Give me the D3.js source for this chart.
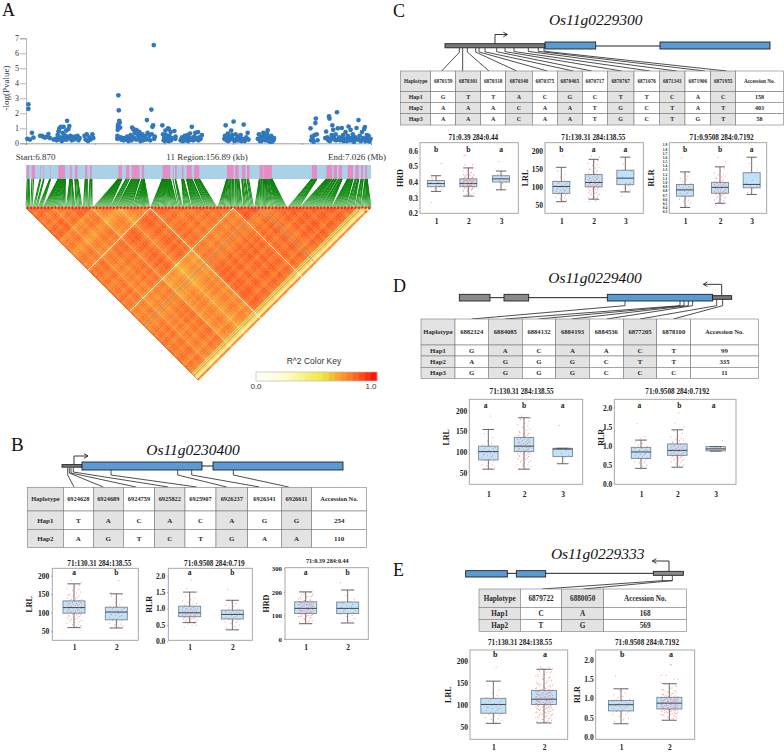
<!DOCTYPE html>
<html><head><meta charset="utf-8">
<script src="https://cdn.jsdelivr.net/npm/d3@7"></script>
<style>html,body{margin:0;padding:0;background:#fff}svg{display:block}text{font-family:"Liberation Serif",serif}</style>
</head><body><svg id="c" width="784" height="753"></svg>
<script>
// ---------- Panel A data ----------
const regionKb = 156.89;
const snpCluster1 = [[.6,.3],[1.1,2.6],[1.1,2.3],[1.8,.25],[2.7,.7],[3.4,.38]];
const snpCluster2 = [[6.4,.5],[7.2,.5],[8,.42],[8.7,.38],[9.6,.45],[10.2,.62],[10.9,.35],[12.6,.25],[13.4,.3],[14,.2],[14.4,.55],[14.8,.8],[15.2,1],[15.6,.4],[15.9,1.1],[16.3,.15],[16.6,.7],[16.9,.3],[17.1,1.1],[17.5,.55],[17.9,.25],[18.3,.85],[18.7,1.5],[19,.45],[19.3,.95],[19.7,1.15],[20,.35],[20.3,.5],[20.8,.2],[21.2,.4],[21.7,.25],[22.3,.45],[22.9,.3],[23.4,.5],[23.9,.2],[24.4,.35],[26.6,.5],[27.1,.25],[27.6,.6],[28.2,.15],[28.8,.4],[29.3,.25],[30.2,.6],[30.6,.35]];
const snpCluster3 = [[41.5,.3],[41.6,.5],[41.7,.9],[41.8,1.1],[41.9,1.25],[42,3.2],[42.2,2.2],[42.4,1.5],[42.6,1.38],[42.8,1.05],[43,.4],[43.3,.25],[43.8,.35],[44.4,.2],[45,.35],[45.6,.25],[46,.45],[46.6,.15],[47.2,.3],[47.6,.55],[48,.2],[48.3,1.05],[48.7,.95],[49,.4],[49.4,.7],[49.8,.9],[50.1,.25],[50.5,.85],[50.9,.55],[51.2,.3],[51.6,.75],[52,.15],[52.4,.45],[52.9,.6],[53.3,.2],[53.8,.35],[54.2,.5],[54.7,.25],[55,1.55],[55.3,.7],[55.7,.3],[56.1,.55],[56.5,.2],[57,2.25],[57.2,.6],[57.5,1.1],[57.8,1.2],[58.1,6.55],[58.3,.3],[58.6,.45],[62,1.2],[62.3,.6],[62.6,.2],[63,.4],[63.4,.85],[63.8,.3],[64.2,.5],[64.6,1],[65,.95],[65.4,.2],[65.8,.75],[66.2,.35],[67.5,.82],[67.9,.3],[70.3,.2],[71,.4],[71.6,.25],[72.2,.5],[72.8,.3],[73.4,.55],[74,.2],[74.6,.65],[75.4,1.1],[75.9,.35],[76.5,.45],[77,.7],[77.7,.25],[78.2,.75],[78.8,.4],[79.4,.3],[80,.55]];
const snpCluster4 = [[90.2,.3],[90.5,.5],[90.8,1.2],[91.2,.2],[91.8,.65],[92.4,.4],[92.8,.25],[93.3,.85],[93.8,.55],[94.4,1.45],[94.8,.15],[95.3,.6],[95.8,.3],[96.4,.45],[97,.2],[97.6,.55],[98.4,.3],[99,1.25],[99.5,.15],[100.2,.4],[100.8,.7],[101.2,.25]];
const snpCluster5 = [[105.4,.3],[105.9,.6],[106.4,.15],[106.9,.45],[107.4,.25],[107.9,.7],[108.4,.35],[108.8,.2],[109.2,.55],[109.6,.65],[109.9,.87],[110.3,.15],[110.7,.4],[111.1,.25],[111.5,.5],[111.8,.3],[112.1,.12],[112.4,.2],[112.8,.35]];
const snpCluster6 = [[129.4,1],[129.7,.2],[130,.45],[130.4,.3],[130.8,.1],[131.2,.55],[131.6,1.35],[131.8,1.65],[132.2,.6],[132.6,.2],[136.1,.35],[136.5,.78],[137,.4],[137.5,.2],[137.8,1.8],[138,1.65],[138.5,.3],[139,.55],[139.3,1.2],[139.7,.9],[140.2,.25],[140.8,.6],[141.4,2.07],[141.8,1],[142.4,.4],[143,.2],[143.6,1.02],[144.2,.55],[144.8,.3],[145.3,.75],[145.8,.15],[146.3,.5],[146.7,1.12],[147.2,.35],[147.6,.9],[148,.2],[148.6,.6],[149.2,.1],[149.7,.4],[150.3,1.02],[150.9,.25],[151.2,1.55],[151.7,.5],[152.2,.15],[152.8,.75],[153.3,.35],[153.8,.95],[154.1,1.08],[154.6,.3],[155,.55],[155.4,.2],[155.8,.5],[156.2,.12],[156.7,.3]];
const snpCluster7 = [[15,.3],[16,.2],[17.3,.4],[18.5,.25],[21,.3],[62.8,.35],[63.2,.15],[63.6,.55],[64,.25],[64.4,.4],[64.9,.15],[65.2,.5],[65.6,.3],[66,.2],[68,.45],[70.7,.3],[71.3,.15],[72,.35],[72.5,.2],[73.1,.4],[73.7,.15],[74.3,.35],[75,.25],[76,.2],[77.3,.35],[78.5,.2],[91,.35],[92,.15],[93,.45],[94,.3],[96,.2],[97.3,.35],[98,.15],[100,.3],[106,.3],[107,.15],[108.1,.45],[109,.25],[110,.35],[110.9,.2],[111.3,.1],[112.6,.25],[137.2,.3],[138.2,.15],[140,.4],[141,.2],[142,.25],[143.3,.35],[144.5,.15],[146,.3],[147,.2],[148.3,.35],[149.4,.25],[151,.3],[152.5,.2],[154.3,.15],[155.2,.35]];
const pinkBands = [[.3,1.4],[2.6,4.1],[6.4,6.7],[7.9,8.2],[10.9,11.2],[14.7,17.8],[20,20.8],[22.3,23.4],[26.9,27.9],[29.1,29.9],[42,43.6],[45.5,47],[48.1,51.6],[52.7,53.7],[62.1,65.6],[66.8,67.1],[67.8,68.6],[70.9,71.6],[73.1,75.4],[76.5,78.8],[91.4,94.4],[95.1,96.7],[98.2,99.7],[100.5,101.7],[106.2,108],[108.3,111.8],[130,132.3],[136.6,139.2],[139.9,141.4],[142.2,143.7],[146.3,148.7],[149.8,151.3],[152.4,153.3],[154.3,155.1]];
const logPTicks = [0,1,2,3,4,5,6,7];
const kbTicks = [0,31.4,62.8,94.1,125.5,156.89];
const ldBins = 100;
const ldEdges = [19,36,60,68,96];
const ldBase = [
 [.80,.77,.78,.76,.78,.66],
 [.77,.75,.81,.72,.75,.66],
 [.78,.81,.79,.77,.81,.66],
 [.76,.72,.77,.85,.81,.66],
 [.78,.75,.81,.81,.82,.66],
 [.66,.66,.66,.66,.66,.72]];
const ldBinShift = [.014,-.007,.021,.007,-.014,.014,.028,-.007,-.028,-.021,.007,-.014,-.035,.014,.021,-.007,.014,.028,.014,-.042,-.021,.007,-.007,.021,.014,-.014,-.042,-.056,-.035,-.014,.007,.021,.014,-.021,.007,-.014,-.035,.014,.021,.007,.028,.014,-.007,-.021,.014,.021,-.014,-.028,.007,-.007,.021,.014,-.021,.007,.028,-.014,-.007,.014,.007,-.028,-.035,.014,.007,-.021,-.014,.021,.014,-.014,-.035,-.021,-.042,-.028,-.007,.014,-.021,.007,.021,-.014,.014,.028,-.007,-.028,.014,.007,.021,-.021,-.007,.014,.028,.007,-.014,-.035,.021,.014,-.014,-.021,-.14,.06,-.25,.07];
const ldLinesBoth = [[36,"#fff",1],[60,"#fff",.9],[68,"#8f9a95",.9]];
const ldLinesLeft = [[96.4,"#8f9a95",.9],[97.6,"#fff",.8],[99,"#fff",.6]];
const ldLinesRight = [[19,"#fff",.5],[27,"#fff",.4],[8,"#fff",.3]];
const keyStops = [0,.05,.1,.15,.2,.25,.3,.35,.4,.45,.5,.55,.6,.65,.7,.75,.8,.85,.9,.95];
// ---------- Haplotype tables ----------
const tblBHead = ["Haplotype","6924628","6924689","6924759","6925822","6925907","6926237","6926341","6926611","Accession No."];
const tblBRows = [["Hap1","T","A","C","A","C","A","G","G","254"],["Hap2","A","G","T","C","T","G","A","A","110"]];
const tblCHead = ["Haplotype","6870159","6870301","6870318","6870340","6870375","6870465","6870717","6870767","6871076","6871343","6871906","6871955","Accession No."];
const tblCRows = [["Hap1","G","T","T","A","C","G","C","T","T","C","A","C","158"],["Hap2","A","A","A","C","A","A","T","G","C","T","A","T","403"],["Hap3","A","A","A","C","A","A","T","G","C","T","G","T","58"]];
const tblDHead = ["Haplotype","6882324","6884085","6884132","6884193","6884536","6877205","6878100","Accession No."];
const tblDRows = [["Hap1","G","A","C","A","A","C","T","99"],["Hap2","A","G","G","G","C","T","T","335"],["Hap3","G","G","G","G","C","C","C","11"]];
const tblEHead = ["Haplotype","6879722","6880050","Accession No."];
const tblERows = [["Hap1","C","A","168"],["Hap2","T","G","569"]];
// ---------- Box statistics [low, q1, median, q3, high] ----------
const statBLRL = [[60,99,114,132,178],[59,81,102,115,151]];
const statBRLR = [[.57,.75,.87,1.07,1.5],[.35,.68,.82,.95,1.25]];
const statBHRD = [[65,108,130,158,200],[68,108,130,157,208]];
const statCHRD = [[.34,.37,.39,.41,.44],[.31,.37,.39,.42,.49],[.35,.4,.42,.44,.47]];
const statCLRL = [[60,83,102,116,155],[67,101,113,135,177],[87,107,125,147,183]];
const statCRLR = [[.4,.67,.82,.95,1.25],[.5,.74,.88,1,1.37],[.71,.87,.95,1.23,1.6]];
const statDLRL = [[60,82,102,115,155],[60,102,115,136,183],[73,90,108,110,110]];
const statDRLR = [[.41,.67,.84,.96,1.15],[.44,.75,.88,1.05,1.42],[.86,.87,.92,.98,.98]];
const statELRL = [[59,82,102,116,155],[60,102,114,134,182]];
const statERLR = [[.35,.68,.84,.95,1.25],[.44,.73,.88,1.03,1.38]];
// ---------- Accession values behind the boxes ----------
const lrlSparse = [60,62,65,68,70,72,75,78,80,82,84,85,88,90,92,93,95,96,98,100,100,102,104,105,108,110,112,114,115,118,122,128,135,145,155,187];
const lrlDense = [60,63,66,68,70,72,74,76,78,80,82,83,85,86,88,90,91,92,94,95,96,97,98,100,100,101,102,103,104,105,106,107,108,109,110,111,112,113,113,114,115,115,116,117,118,119,120,121,122,123,124,125,126,127,128,130,131,132,133,134,135,136,138,140,142,144,146,148,150,153,156,160,163,166,170,174,178,183,187];
const lrlFew = [75,88,92,98,105,108,110,112,128,145,165,182];
const rlrSparse = [.41,.45,.5,.55,.58,.6,.62,.65,.67,.68,.7,.72,.74,.76,.78,.8,.82,.84,.85,.87,.88,.9,.92,.93,.95,.96,.98,1.02,1.06,1.1,1.15,1.2,1.25,1.58];
const rlrDense = [.44,.48,.5,.53,.56,.58,.6,.62,.63,.65,.66,.68,.69,.7,.71,.72,.73,.74,.75,.76,.77,.78,.79,.8,.81,.82,.83,.84,.85,.86,.87,.87,.88,.89,.9,.91,.92,.93,.94,.95,.96,.97,.98,.99,1,1.01,1.02,1.04,1.05,1.07,1.09,1.11,1.13,1.15,1.18,1.2,1.23,1.27,1.32,1.38,1.5,1.6,1.87];
const rlrFew = [.75,.86,.9,.92,.95,.98,1.05,1.15,1.22,1.3,1.45,1.6];
const rlrTight = [.86,.87,.88,.9,.92,.93,.95,.96,.98,1.14];
const hrdSparse = [.27,.34,.35,.36,.37,.37,.38,.38,.39,.39,.39,.4,.4,.4,.41,.41,.42,.43,.44,.52];
const hrdDense = [.31,.32,.33,.34,.35,.35,.36,.36,.37,.37,.37,.38,.38,.38,.38,.39,.39,.39,.39,.39,.4,.4,.4,.4,.4,.41,.41,.41,.41,.42,.42,.42,.43,.43,.44,.44,.45,.45,.46,.47,.49,.51,.57];
const hrdFew = [.35,.39,.4,.41,.42,.42,.43,.44,.45,.47,.53];
const hrdAbs1 = [65,72,78,85,90,95,98,100,103,105,108,110,112,114,116,118,120,122,124,126,128,130,132,134,136,138,140,142,144,146,148,150,152,154,156,158,160,163,166,170,175,180,186,192,198];
const hrdAbs2 = [68,78,88,95,100,105,108,112,118,122,126,130,134,138,142,146,150,155,160,170,185,208,240];
const dotJitter = [-.7,.3,.85,-.2,.55,-.9,.1,.7,-.5,.95,-.35,.2,-.8,.45,-.1,.65,-.6];
const letterMark = {B1:["a","b"],B2:["a","b"],B3:["a","b"],C1:["b","b","a"],C2:["b","a","a"],C3:["b","b","a"],D1:["a","b","a"],D2:["a","b","a"],E1:["b","a"],E2:["b","a"]};

const svg = d3.select("#c");
const SERIF = "Liberation Serif, serif", SANS = "Liberation Sans, Arial, sans-serif";
const txt = (g,x,y,s,o={})=>g.append("text").attr("x",x).attr("y",y).text(s)
  .attr("font-size",o.fs||8).attr("font-weight",o.w||"normal").attr("font-style",o.st||"normal")
  .attr("text-anchor",o.a||"middle").attr("fill",o.c||"#1a1a1a").style("font-family",o.f||SERIF);

// panel letters
[["A",2,16,18],["B",11,451,19],["C",393,17,18],["D",393,292,18],["E",393,576,18]].forEach(d=>txt(svg,d[1],d[2],d[0],{fs:d[3],a:"start",c:"#111"}));

// ---------- Panel A ----------
const snps = [].concat(snpCluster1,snpCluster2,snpCluster3,snpCluster4,snpCluster5,snpCluster6,snpCluster7).sort((a,b)=>a[0]-b[0]);
const kbX = d3.scaleLinear().domain([0,regionKb]).range([26,371]);
const pY = d3.scaleLinear().domain([0,7]).range([143.3,38.3]);
const gA = svg.append("g");
const axY = gA.append("g").attr("transform","translate(26,0)").call(d3.axisLeft(pY).tickValues(logPTicks).tickSize(6).tickPadding(1).tickFormat(d3.format("d")));
axY.selectAll("text").attr("font-size",8).attr("fill","#333").style("font-family",SERIF);
axY.selectAll("line,path").attr("stroke","#888").attr("stroke-width",.6);
const axX = gA.append("g").attr("transform","translate(0,143.3)").call(d3.axisBottom(kbX).tickValues(kbTicks).tickSize(1.5).tickFormat(""));
axX.selectAll("line,path").attr("stroke","#777").attr("stroke-width",.7);
txt(gA,0,0,"-log(Pvalue)",{fs:9,c:"#333"}).attr("transform","translate(9,88) rotate(-90)");
gA.selectAll("circle").data(snps).join("circle").attr("cx",d=>kbX(d[0])).attr("cy",d=>pY(d[1])).attr("r",2.35).attr("fill","#2f78bd");
txt(gA,15.7,160,"Start:6.870",{fs:9,a:"start",c:"#333"});
txt(gA,207,160,"11 Region:156.89 (kb)",{fs:9,c:"#333"});
txt(gA,386,160,"End:7.026 (Mb)",{fs:9,a:"end",c:"#333"});
const stripTop=165, stripBot=179, greenBot=207.5, ldTop=208;
gA.append("rect").attr("x",26).attr("y",stripTop).attr("width",345).attr("height",stripBot-stripTop).attr("fill","#a9d1e7");
gA.selectAll("rect.pk").data(pinkBands).join("rect").attr("class","pk").attr("x",d=>kbX(d[0])).attr("width",d=>kbX(d[1])-kbX(d[0])).attr("y",stripTop).attr("height",stripBot-stripTop).attr("fill","#e48cc3");
const defs = svg.append("defs");
const gr = defs.append("linearGradient").attr("id","gg").attr("gradientUnits","userSpaceOnUse").attr("x1",0).attr("x2",0).attr("y1",stripBot).attr("y2",greenBot);
gr.append("stop").attr("offset",0).attr("stop-color","#0a7d0a");
gr.append("stop").attr("offset",.55).attr("stop-color","#148c14");
gr.append("stop").attr("offset",1).attr("stop-color","#7cc47c");
const rankX = d3.scaleLinear().domain([0,snps.length-1]).range([26,371]);
// each link starts in the pink band nearest to its SNP
const snapKb = k=>{
  let best=k,bd=1e9;
  for(const b of pinkBands){const c=Math.max(b[0],Math.min(b[1],k)),e=Math.abs(c-k);if(e<bd){bd=e;best=c;}}
  return best;
};
gA.selectAll("line.lk").data(snps).join("line").attr("class","lk").attr("x1",d=>kbX(snapKb(d[0]))).attr("y1",stripBot).attr("x2",(d,i)=>rankX(i)).attr("y2",greenBot).attr("stroke","url(#gg)").attr("stroke-width",1.1);

// LD triangle
const ldX = d3.scaleLinear().domain([0,ldBins]).range([26,371]);
const pt=(a,b)=>[(ldX(a)+ldX(b))/2, ldTop+(ldX(b)-ldX(a))/2];
const ldColor = d3.scaleLinear().domain([0,.25,.55,.68,.8,1]).range(["#ffffff","#fffcc8","#eee83c","#f8a530","#fb7426","#ff0800"]).clamp(true);
const seg = i=>d3.bisectRight(ldEdges,i);
const cells=[];
for(let i=0;i<ldBins;i++)for(let j=i;j<ldBins;j++){
  const v = i===j?.95:ldBase[seg(i)][seg(j)]+ldBinShift[i]+ldBinShift[j];
  cells.push({i,j,v});
}
const gL = svg.append("g");
gL.selectAll("path").data(cells).join("path")
  .attr("d",d=>"M"+[pt(d.i+1,d.j),pt(d.i+1,d.j+1),pt(d.i,d.j+1),pt(d.i,d.j)].map(p=>p[0].toFixed(2)+","+p[1].toFixed(2)).join("L")+"Z")
  .attr("fill",d=>ldColor(d.v)).attr("stroke",d=>ldColor(d.v)).attr("stroke-width",.25);
const ldLine=(b,col,wd,arm)=>{
  const s=pt(b,b);
  const e=arm==="l"?pt(0,b):pt(b,ldBins);
  gL.append("line").attr("x1",s[0]).attr("y1",s[1]).attr("x2",e[0]).attr("y2",e[1]).attr("stroke",col).attr("stroke-width",wd);
};
ldLinesBoth.forEach(d=>{ldLine(d[0],d[1],d[2],"l");ldLine(d[0],d[1],d[2],"r")});
ldLinesLeft.forEach(d=>ldLine(d[0],d[1],d[2],"l"));
ldLinesRight.forEach(d=>ldLine(d[0],d[1],d[2],"r"));
{const a=pt(0,0),b=pt(0,ldBins);gL.append("line").attr("x1",a[0]).attr("y1",a[1]).attr("x2",b[0]).attr("y2",b[1]).attr("stroke","#8a5a3a").attr("stroke-width",.5);}
// colour key
const keyX = d3.scaleLinear().domain([0,1]).range([256,377]);
svg.selectAll("rect.key").data(keyStops).join("rect").attr("class","key").attr("x",d=>keyX(d)).attr("width",keyX(.05)-keyX(0)+.3).attr("y",372).attr("height",9).attr("fill",d=>ldColor(d+.025));
svg.append("rect").attr("x",256).attr("y",372).attr("width",121).attr("height",9).attr("fill","none").attr("stroke","#bbb").attr("stroke-width",.7);
txt(svg,314,364,"R^2 Color Key",{fs:8.5,f:SANS,c:"#333"});
txt(svg,256,389,"0.0",{fs:8,f:SANS,c:"#333"});
txt(svg,371,389,"1.0",{fs:8,f:SANS,c:"#333"});

// ---------- helpers for panels B-E ----------
function hapTable(g,xs,ys,grey,head,rows,o){
  const fs=o.fs,fh=o.fh||fs;
  const rowsAll=[head].concat(rows);
  const cs=[];
  rowsAll.forEach((r,ri)=>r.forEach((v,ci)=>cs.push({v,ci,ri})));
  g.selectAll("rect.t").data(cs).join("rect").attr("class","t")
    .attr("x",d=>xs[d.ci]).attr("y",d=>ys[d.ri]).attr("width",d=>xs[d.ci+1]-xs[d.ci]).attr("height",d=>ys[d.ri+1]-ys[d.ri])
    .attr("fill",d=>(d.ci===0||grey.includes(d.ci))?"#e3e3e3":"#fff").attr("stroke","#7a7a7a").attr("stroke-width",.6);
  g.selectAll("text.t").data(cs).join("text").attr("class","t")
    .attr("x",d=>(xs[d.ci]+xs[d.ci+1])/2).attr("y",d=>(ys[d.ri]+ys[d.ri+1])/2+(d.ri?fs:fh)*.34)
    .attr("text-anchor","middle").attr("font-size",d=>d.ri?fs:fh).attr("font-weight","bold").attr("fill","#2a2a2a").style("font-family",SERIF).text(d=>d.v);
}
function gene(g,o){
  txt(g,o.tx,o.ty,o.title,{fs:o.tfs||15.5,st:"italic",c:"#111"});
  g.append("line").attr("x1",o.line[0]).attr("x2",o.line[1]).attr("y1",o.cy).attr("y2",o.cy).attr("stroke","#222").attr("stroke-width",1);
  o.parts.forEach(p=>g.append("rect").attr("x",p[0]).attr("width",p[1]-p[0]).attr("y",p[2]).attr("height",p[3]-p[2]).attr("fill",p[4]).attr("stroke","#222").attr("stroke-width",.9));
  const a=o.arrow,dir=Math.sign(a[2]-a[0]);
  g.append("path").attr("d",`M${a[0]},${a[1]}V${a[3]}H${a[2]}`).attr("fill","none").attr("stroke","#222").attr("stroke-width",.9);
  g.append("path").attr("d",`M${a[2]-dir*4},${a[3]-2.3}L${a[2]},${a[3]}L${a[2]-dir*4},${a[3]+2.3}`).attr("fill","none").attr("stroke","#222").attr("stroke-width",.9);
  o.links.forEach(l=>g.append("path").attr("d",`M${l[0]},${l[1]}V${l[2]}L${l[3]},${l[4]}`).attr("fill","none").attr("stroke","#222").attr("stroke-width",.8));
}
function boxPlot(g,o){
  const y=d3.scaleLinear().domain([o.cal[0],o.cal[2]]).range([o.cal[1],o.cal[3]]);
  const x=d3.scaleOrdinal().domain(o.cats).range(o.catX);
  g.append("rect").attr("x",o.x0).attr("y",o.y0).attr("width",o.x1-o.x0).attr("height",o.y1-o.y0).attr("fill","#fff").attr("stroke","#a8a8a8").attr("stroke-width",1);
  txt(g,o.titleX,o.titleY,o.title,{fs:o.tfs||7.2,w:"bold"});
  const ay=g.append("g").attr("transform",`translate(${o.x0},0)`).call(d3.axisLeft(y).tickValues(o.ticks).tickSize(o.tsz==null?1:o.tsz).tickPadding(2).tickFormat(o.fmt));
  ay.select(".domain").remove();
  ay.selectAll("line").attr("stroke","#999");
  ay.selectAll("text").attr("font-size",o.yfs||7.5).attr("font-weight","bold").attr("fill","#222").style("font-family",SERIF);
  const ax=g.append("g").attr("transform",`translate(0,${o.y1})`).call(d3.axisBottom(x).tickValues(o.cats).tickSize(0).tickPadding(o.xpad||6));
  ax.select(".domain").remove();
  ax.selectAll("text").attr("font-size",7.5).attr("font-weight","bold").attr("fill","#222").style("font-family",SERIF);
  txt(g,0,0,o.ylab,{fs:8,w:"bold"}).attr("transform",`translate(${o.ylx},${o.yly||(o.y0+o.y1)/2}) rotate(-90)`);
  const hw=o.bw/2;
  o.cats.forEach((c,k)=>{
    const s=o.stats[k],cx=x(c),gb=g.append("g");
    gb.append("rect").attr("x",cx-hw).attr("width",o.bw).attr("y",y(s[3])).attr("height",y(s[1])-y(s[3])).attr("fill","#bfe3f8").attr("stroke","#7d8790").attr("stroke-width",.9);
    gb.append("line").attr("x1",cx).attr("x2",cx).attr("y1",y(s[4])).attr("y2",y(s[3])).attr("stroke","#5a4444").attr("stroke-width",.8);
    gb.append("line").attr("x1",cx).attr("x2",cx).attr("y1",y(s[1])).attr("y2",y(s[0])).attr("stroke","#5a4444").attr("stroke-width",.8);
    [s[0],s[4]].forEach(v=>gb.append("line").attr("x1",cx-hw*.6).attr("x2",cx+hw*.6).attr("y1",y(v)).attr("y2",y(v)).attr("stroke","#555").attr("stroke-width",.9));
    gb.append("line").attr("x1",cx-hw).attr("x2",cx+hw).attr("y1",y(s[2])).attr("y2",y(s[2])).attr("stroke","#333").attr("stroke-width",.9);
    gb.selectAll("circle").data(o.dots[k]).join("circle").attr("cx",(d,i)=>cx+dotJitter[i%dotJitter.length]*hw*.72).attr("cy",d=>y(d)).attr("r",.5).attr("fill","#f0505a").attr("fill-opacity",.75);
    txt(g,o.letX?o.letX[k]:cx,o.letY,o.letters[k],{fs:o.lfs||7.5,w:"bold"});
  });
}
const f1=d3.format(".1f"), fd=d3.format("d");

// ---------- Panel B ----------
{
 const X=z=>z/3, Y=z=>405+z/3, Y2=z=>570+z/3, g=svg.append("g");
 gene(g,{title:"Os11g0230400",tx:193,ty:455,cy:466,line:[62,343],
  parts:[[62,82,464.6,467.2,"#777"],[82,202,462,470,"#5b9bd5"],[213,343,462,470,"#5b9bd5"]],
  arrow:[74,464,88,456],
  links:[[67.7,468,475,74,487],[69.3,468,473,103.3,487],[71,468,473,136,487],[73.3,468,472,168.3,487],[111,470,475,196.7,487],[177.7,470,475,226.7,487],[191.7,470,475,259.3,487],[233.3,470,475,288.7,487]]});
 hapTable(g,[82,190,280,370,464,555,648,743,844,935,1100].map(X),[247,318,373,428].map(Y),[2,4,6,8],tblBHead,tblBRows,{fs:7,fh:6.4});
 boxPlot(g,{x0:X(157),x1:X(415),y0:Y(490),y1:Y2(211),cal:[200,Y2(17),50,Y2(184)],ticks:[50,100,150,200],fmt:fd,cats:["1","2"],catX:[222,349].map(X),
  stats:statBLRL,dots:[lrlDense,lrlSparse],bw:22,title:"71:130.31 284:138.55",titleX:X(298),titleY:Y(484),ylab:"LRL",ylx:X(95),letters:letterMark.B1,letY:Y2(14),xpad:4});
 boxPlot(g,{x0:X(505),x1:X(757),y0:Y(490),y1:Y2(211),cal:[2,Y2(17),0,Y2(214)],ticks:[0,.5,1,1.5,2],fmt:f1,cats:["1","2"],catX:[569,697].map(X),
  stats:statBRLR,dots:[rlrDense,rlrSparse],bw:22,title:"71:0.9508 284:0.719",titleX:X(643),titleY:Y(484),ylab:"RLR",ylx:X(457),letters:letterMark.B2,letY:Y2(14),xpad:4});
 boxPlot(g,{x0:X(855),x1:X(1105),y0:Y(488),y1:Y2(208),cal:[300,Y(490),0,Y2(207)],ticks:[0,100,200,300],fmt:fd,cats:["1","2"],catX:[917,1043].map(X),
  stats:statBHRD,dots:[hrdAbs1.concat(hrdAbs1),hrdAbs2],bw:22,title:"71:0.39 284:0.44",tfs:6.2,titleX:X(982),titleY:Y(475),ylab:"HRD",ylx:X(808),letters:letterMark.B3,letY:Y2(16),yfs:6.8,xpad:5});
}
// ---------- Panel C ----------
{
 const X=z=>390+z/3, Y=z=>z/3, Y2=z=>130+z/3, g=svg.append("g");
 const gx=[208,218,232,257,267,285,320,345,372,415,445,462], tx=[155,218,297,380,472,550,605,695,780,860,945,1010];
 gene(g,{title:"Os11g0229300",tx:X(617),ty:Y(75),cy:46,line:[X(617),X(810)],
  parts:[[X(165),X(465),43.7,47.8,"#777"],[X(465),X(617),42,49,"#5b9bd5"],[X(810),X(1140),42,49,"#5b9bd5"]],
  arrow:[X(315),43.7,X(352),34.5],
  links:gx.map((v,i)=>[X(v),48,Y(157-i*.3),X(tx[i]),Y(213)])});
 hapTable(g,[32,122,197,272,347,427,502,577,652,732,808,885,962,1037,1180].map(X),[213,275,307,341,375].map(Y),[2,4,6,8,10,12],tblCHead,tblCRows,{fs:6,fh:5.3});
 boxPlot(g,{x0:X(90),x1:X(385),y0:Y2(38),y1:Y2(250),cal:[.6,Y2(62),.2,Y2(250)],ticks:[.2,.3,.4,.5,.6],fmt:f1,cats:["1","2","3"],catX:[138,235,333].map(X),
  stats:statCHRD,dots:[hrdSparse,hrdDense.concat(hrdDense),hrdFew],bw:17,title:"71:0.39 284:0.44",titleX:X(250),titleY:Y2(30),ylab:"HRD",ylx:X(38),letters:letterMark.C1,letY:Y2(66),xpad:5,tsz:0});
 boxPlot(g,{x0:X(465),x1:X(760),y0:Y2(38),y1:Y2(250),cal:[200,Y2(63),50,Y2(226)],ticks:[50,100,150,200],fmt:fd,cats:["1","2","3"],catX:[514,611,706].map(X),
  stats:statCLRL,dots:[lrlSparse,lrlDense,lrlFew],bw:17,title:"71:130.31 284:138.55",titleX:X(610),titleY:Y2(30),ylab:"LRL",ylx:X(413),letters:letterMark.C2,letY:Y2(66),xpad:5,tsz:0});
 boxPlot(g,{x0:X(838),x1:X(1130),y0:Y2(38),y1:Y2(250),cal:[1.9,Y2(44),.3,Y2(245)],ticks:d3.range(3,20).map(d=>d/10),fmt:f1,cats:["1","2","3"],catX:[885,990,1085].map(X),
  stats:statCRLR,dots:[rlrSparse,rlrDense,rlrFew],bw:17,title:"71:0.9508 284:0.7192",titleX:X(995),titleY:Y2(30),ylab:"RLR",ylx:X(792),letters:letterMark.C3,letY:Y2(66),yfs:3.6,xpad:5,tsz:0});
}
// ---------- Panel D ----------
{
 const X=z=>420+z/3, Y=z=>270+z/3, Y2=z=>380+z/3, g=svg.append("g");
 const gx=[615,780,792,805,818,890,908], tx=[155,255,355,455,560,660,760];
 gene(g,{title:"Os11g0229400",tx:X(525),ty:Y(40),cy:Y(83),line:[X(118),X(935)],
  parts:[[X(118),X(210),Y(73),Y(93),"#8a8a8a"],[X(252),X(326),Y(73),Y(93),"#8a8a8a"],[X(562),X(878),Y(73),Y(93),"#5b9bd5"],[X(878),X(935),Y(77),Y(88),"#777"]],
  arrow:[X(905),Y(75),X(850),Y(43)],
  links:gx.map((v,i)=>[X(v),i<5?Y(93):Y(88),Y(107),X(tx[i]),Y(147)])});
 hapTable(g,[3,105,205,307,407,508,610,710,812,1015].map(X),[147,225,258,292,325].map(Y),[2,4,6],tblDHead,tblDRows,{fs:6.8,fh:6.6});
 boxPlot(g,{x0:X(148),x1:X(488),y0:Y2(58),y1:Y2(313),cal:[200,Y2(92),50,Y2(280)],ticks:[50,100,150,200],fmt:fd,cats:["1","2","3"],catX:[205,312,428].map(X),
  stats:statDLRL,dots:[lrlSparse,lrlDense,[75,88,92,98,105,108,110,110,165]],bw:19.5,title:"71:130.31 284:138.55",titleX:X(305),titleY:Y2(42),ylab:"LRL",ylx:X(88),yly:Y2(172),letters:letterMark.D1,letX:[197,312,428].map(X),letY:Y2(84),xpad:7,tsz:0});
 boxPlot(g,{x0:X(583),x1:X(948),y0:Y2(58),y1:Y2(313),cal:[2,Y2(83),0,Y2(312)],ticks:[0,.5,1,1.5,2],fmt:f1,cats:["1","2","3"],catX:[663,772,887].map(X),
  stats:statDRLR,dots:[rlrSparse,rlrDense,rlrTight],bw:19.5,title:"71:0.9508 284:0.7192",titleX:X(772),titleY:Y2(42),ylab:"RLR",ylx:X(553),yly:Y2(172),letters:letterMark.D2,letX:[658,778,881].map(X),letY:Y2(84),xpad:7,tsz:0});
}
// ---------- Panel E ----------
{
 const X=z=>420+z/3, Y=z=>510+z/3, g=svg.append("g");
 gene(g,{title:"Os11g0229333",tx:X(533),ty:Y(148),cy:Y(190),line:[X(137),X(790)],
  parts:[[X(137),X(262),Y(182),Y(201),"#5b9bd5"],[X(289),X(377),Y(182),Y(201),"#5b9bd5"],[X(700),X(790),Y(184),Y(196),"#8a8a8a"]],
  arrow:[X(747),Y(184),X(697),Y(153)],
  links:[[X(727),Y(196),Y(212),X(367),Y(237)],[X(757),Y(196),Y(212),X(490),Y(237)]]});
 g.append("line").attr("x1",X(727)).attr("x2",X(757)).attr("y1",Y(212)).attr("y2",Y(212)).attr("stroke","#222").attr("stroke-width",.8);
 hapTable(g,[177,301,425,551,800].map(X),[237,292,328,364].map(Y),[2],tblEHead,tblERows,{fs:7.2,fh:7.2});
 boxPlot(g,{x0:X(150),x1:X(443),y0:Y(420),y1:Y(688),cal:[200,Y(454),50,Y(652)],ticks:[50,100,150,200],fmt:fd,cats:["1","2"],catX:[220,372].map(X),
  stats:statELRL,dots:[lrlSparse,lrlDense.concat(lrlDense)],bw:25,title:"71:130.31 284:138.55",titleX:X(300),titleY:Y(405),ylab:"LRL",ylx:X(92),letters:letterMark.E1,letX:[226,375].map(X),letY:Y(442),lfs:8,xpad:5,tsz:0});
 boxPlot(g,{x0:X(527),x1:X(824),y0:Y(420),y1:Y(688),cal:[2,Y(449),0,Y(682)],ticks:[0,.5,1,1.5,2],fmt:f1,cats:["1","2"],catX:[603,748].map(X),
  stats:statERLR,dots:[rlrSparse,rlrDense.concat(rlrDense)],bw:25,title:"71:0.9508 284:0.7192",titleX:X(681),titleY:Y(405),ylab:"RLR",ylx:X(480),letters:letterMark.E2,letX:[607,753].map(X),letY:Y(442),lfs:8,xpad:5,tsz:0});
}
</script></body></html>
